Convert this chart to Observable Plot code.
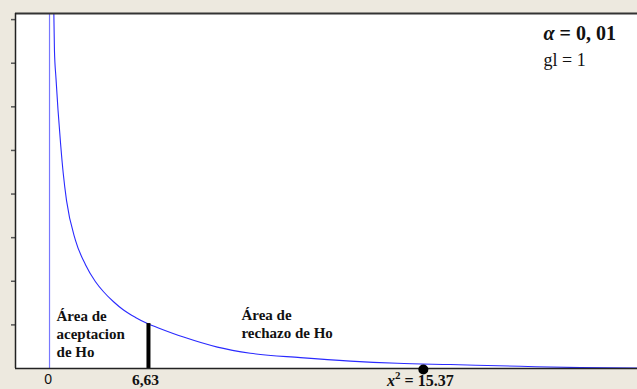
<!DOCTYPE html>
<html><head><meta charset="utf-8">
<script src="https://cdn.jsdelivr.net/npm/d3@7"></script>
<script src="https://cdn.jsdelivr.net/npm/@observablehq/plot@0.6"></script>
<style>body{margin:0;background:#EDE9DF;overflow:hidden}</style>
</head><body><div id="chart"></div>
<script>
// curve (density-like shape)
const curveX = [0.26, 0.29, 0.33, 0.43, 0.57, 0.74, 0.92, 1.14, 1.74, 2.41, 3.08, 3.62, 4.29, 4.96, 5.76, 6.56, 7.30, 8.98, 11.25, 13.46, 16.81, 20.16, 23.31, 26.86, 31.55, 35.57, 39.4];
const curveY = [8.9, 8.14, 7.29, 6.67, 5.92, 5.16, 4.47, 3.85, 2.94, 2.38, 1.99, 1.76, 1.53, 1.34, 1.17, 1.03, 0.93, 0.72, 0.49, 0.35, 0.25, 0.17, 0.12, 0.09, 0.05, 0.02, 0.01];
const xDomain = [-2.28, 39.4];
const yDomain = [0, 8.14];
const yTicks = [1, 2, 3, 4, 5, 6, 7, 8];
const critX = [6.63];
const critTop = [1.03];
const statX = [25.05];
const xTickValues = [0, 6.63];
const xTickLabels = ["0", "6,63"];
const statLabel = "x2 = 15.37";
const acceptLabel = "Área de\naceptacion\nde Ho";
const rejectLabel = "Área de\nrechazo de Ho";
const alphaLabel = "α = 0, 01";
const glLabel = "gl = 1";

const curve = curveX.map((x, i) => ({x, y: curveY[i]}));
const serif = "'Liberation Serif', 'DejaVu Serif', serif";

const chart = Plot.plot({
  width: 637, height: 389,
  marginLeft: 15, marginTop: 13, marginBottom: 21, marginRight: 0,
  style: {background: "#EDE9DF", fontFamily: serif, overflow: "visible"},
  x: {domain: xDomain, axis: null},
  y: {domain: yDomain, axis: null},
  marks: [
    Plot.frame({fill: "white", stroke: null}),
    Plot.axisY(yTicks, {anchor: "left", label: null, tickSize: 4, tickFormat: () => "", stroke: "#555", strokeWidth: 1.5}),
    Plot.ruleX([0], {y1: yDomain[0], y2: yDomain[1], stroke: "#7878ff", strokeWidth: 1.2}),
    Plot.line(curve, {x: "x", y: "y", stroke: "#2a2aff", strokeWidth: 1.1, curve: "monotone-x", clip: true}),
    Plot.ruleX(critX, {x: d => d, y1: 0, y2: (d, i) => critTop[i], stroke: "black", strokeWidth: 4}),
    Plot.ruleY([yDomain[0]], {stroke: "#222", strokeWidth: 1.5}),
    Plot.ruleY([yDomain[1]], {stroke: "#333", strokeWidth: 1.8}),
    Plot.ruleX([xDomain[0]], {stroke: "#222", strokeWidth: 1.5}),
    Plot.dot(statX, {x: d => d, y: 0, r: 5, fill: "black", dy: 1}),
    Plot.text([xTickLabels[0]], {x: xTickValues[0], y: 0, dy: 11, dx: -1.5, text: d => d, fontFamily: "'Liberation Sans', Arial, sans-serif", fontSize: 14, fill: "#111"}),
    Plot.text([xTickLabels[1]], {x: xTickValues[1], y: 0, dy: 12, dx: -3, text: d => d, fontFamily: serif, fontWeight: "bold", fontSize: 15.5, fill: "#111"}),
    Plot.text([statLabel], {x: statX[0], y: 0, dy: 12, dx: -3, text: d => d, fontFamily: serif, fontWeight: "bold", fontSize: 16, fill: "#111"}),
    Plot.text([acceptLabel], {x: 0.47, y: 0.80, text: d => d, textAnchor: "start", fontFamily: serif, fontWeight: "bold", fontSize: 15, lineHeight: 1.2, fill: "#111"}),
    Plot.text([rejectLabel], {x: 12.86, y: 1.03, text: d => d, textAnchor: "start", fontFamily: serif, fontWeight: "bold", fontSize: 15, lineHeight: 1.2, fill: "#111"}),
    Plot.text([alphaLabel], {x: 33.1, y: 7.68, text: d => d, textAnchor: "start", fontFamily: serif, fontWeight: "bold", fontSize: 20, fill: "#111"}),
    Plot.text([glLabel], {x: 33.1, y: 7.06, text: d => d, textAnchor: "start", fontFamily: serif, fontSize: 18, fill: "#111"})
  ]
});
document.getElementById("chart").appendChild(chart);

// style the italic variables / superscript inside labels
const NS = "http://www.w3.org/2000/svg";
function span(txt, attrs) {
  const s = document.createElementNS(NS, "tspan");
  for (const k in attrs) s.setAttribute(k, attrs[k]);
  s.textContent = txt;
  return s;
}
chart.querySelectorAll("text").forEach(t => {
  const s = t.textContent;
  if (s === statLabel) {
    t.textContent = "";
    t.append(
      span("x", {"font-style": "italic"}),
      span("2", {"font-size": "11", dy: "-7"}),
      span(" = 15.37", {dy: "7"})
    );
  } else if (s === alphaLabel) {
    t.textContent = "";
    t.append(span("α", {"font-style": "italic"}), span(alphaLabel.slice(1), {}));
  }
});
</script>
</body></html>
